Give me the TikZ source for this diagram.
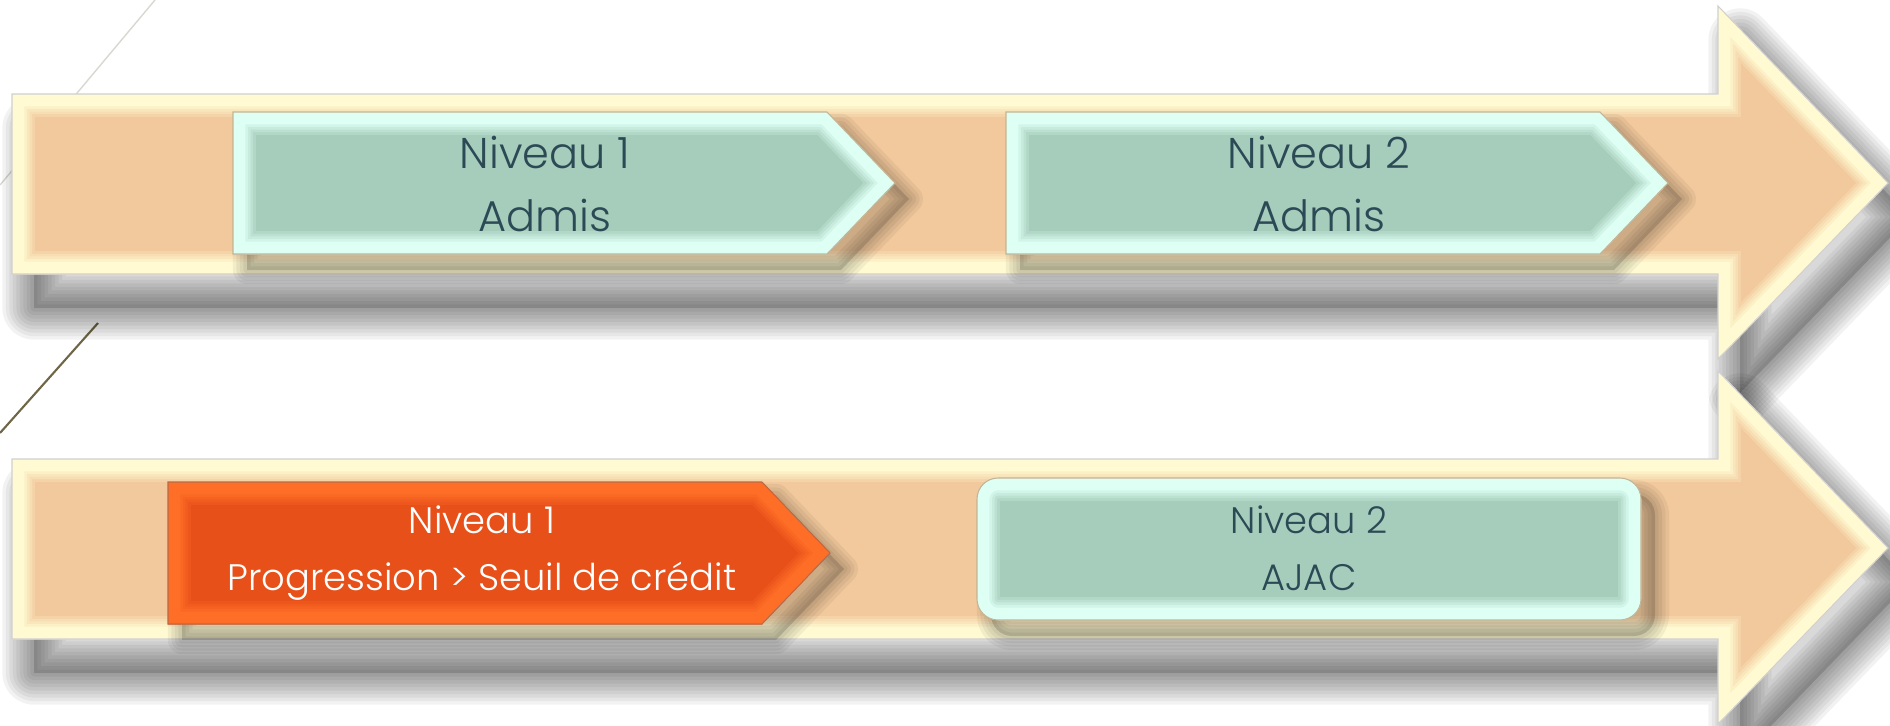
\documentclass[tikz,border=0pt]{standalone}
\usepackage{fontspec}
\setmainfont{Poppins}[UprightFont=* Light]

\definecolor{peach}{HTML}{F2C99D}
\definecolor{peachlight}{HTML}{FFFAD2}
\definecolor{mint}{HTML}{A6CDBB}
\definecolor{mintlight}{HTML}{DDFFF4}
\definecolor{flame}{HTML}{E8501A}
\definecolor{flamelight}{HTML}{FF6E26}
\definecolor{slate}{HTML}{2C4A55}
\definecolor{rimgray}{HTML}{D0D0D0}
\definecolor{rimtan}{HTML}{C4B496}
\definecolor{rimrust}{HTML}{B86A48}
\definecolor{faintline}{HTML}{D8D8D2}
\definecolor{oliveline}{HTML}{6E6646}

% shapes, in pixels
\newcommand{\bigarrowpath}[1]{\path[#1] (12,94) -- (1718,94) -- (1718,6) -- (1888,183) -- (1718,359) -- (1718,274) -- (12,274) -- cycle;}
\newcommand{\tagpath}[1]{\path[#1] (0,0) -- (594,0) -- (662,71) -- (594,142) -- (0,142) -- cycle;}
\newcommand{\pillpath}[1]{\path[#1, rounded corners=12pt] (0,0) rectangle (664,142);}

% blurred drop shadow: path, offset, stroke widths
\newcommand{\softshadow}[3]{%
  \begin{scope}[shift={#2}]
    #1{fill=black, opacity=0.15}
    \foreach \w in {#3} {#1{draw=black, opacity=0.05, line width=\w pt, line join=round}}
  \end{scope}}

% bevelled fill: path, main colour, light colour, rim colour
\newcommand{\bevelled}[4]{%
  #1{fill=#2}
  \begin{scope}
    #1{clip}
    #1{draw=#3!20!#2, line width=26pt}
    #1{draw=#3!40!#2, line width=23pt}
    #1{draw=#3!60!#2, line width=20pt}
    #1{draw=#3!80!#2, line width=17pt}
    #1{draw=#3, line width=14pt}
  \end{scope}
  #1{draw=#4, line width=0.6pt}}

\tikzset{
  tagtext/.style={text=slate, align=center, font=\fontsize{24.5}{36}\selectfont},
  lowtext/.style={text=slate, align=center, font=\fontsize{21}{32.5}\selectfont},
}

\begin{document}
\begin{tikzpicture}[x=0.02cm, y=-0.02cm, line join=miter]
  \useasboundingbox (0,0) rectangle (1890,725);

  % Background strokes
  \draw[faintline, line width=0.8pt] (155,0) -- (0,185);
  \draw[oliveline, line width=1.2pt] (98,323) -- (0,433);

  % Upper track
  \softshadow{\bigarrowpath}{(22,34)}{4,8,12,16,20,24,28,32,36}
  \bevelled{\bigarrowpath}{peach}{peachlight}{rimgray}
  \begin{scope}[shift={(233,112)}]
    \softshadow{\tagpath}{(14,16)}{4,8,12,16}
    \bevelled{\tagpath}{mint}{mintlight}{rimtan}
  \end{scope}
  \begin{scope}[shift={(1006,112)}]
    \softshadow{\tagpath}{(14,16)}{4,8,12,16}
    \bevelled{\tagpath}{mint}{mintlight}{rimtan}
  \end{scope}
  \node[tagtext] (upperone) at (545,184) {Niveau 1\\Admis};
  \node[tagtext] (uppertwo) at (1319,184) {Niveau 2\\Admis};

  % Lower track
  \begin{scope}[shift={(0,365)}]
    \softshadow{\bigarrowpath}{(22,34)}{4,8,12,16,20,24,28,32,36}
    \bevelled{\bigarrowpath}{peach}{peachlight}{rimgray}
  \end{scope}
  \begin{scope}[shift={(168,482)}]
    \softshadow{\tagpath}{(14,16)}{4,8,12,16}
    \bevelled{\tagpath}{flame}{flamelight}{rimrust}
  \end{scope}
  \begin{scope}[shift={(977,478)}]
    \softshadow{\pillpath}{(14,16)}{4,8,12,16}
    \bevelled{\pillpath}{mint}{mintlight}{rimtan}
  \end{scope}
  \node[lowtext, text=white] (lowerone) at (482,553) {Niveau 1\\Progression > Seuil de crédit};
  \node[lowtext] (lowertwo) at (1309,548) {Niveau 2\\AJAC};

\end{tikzpicture}
\end{document}
